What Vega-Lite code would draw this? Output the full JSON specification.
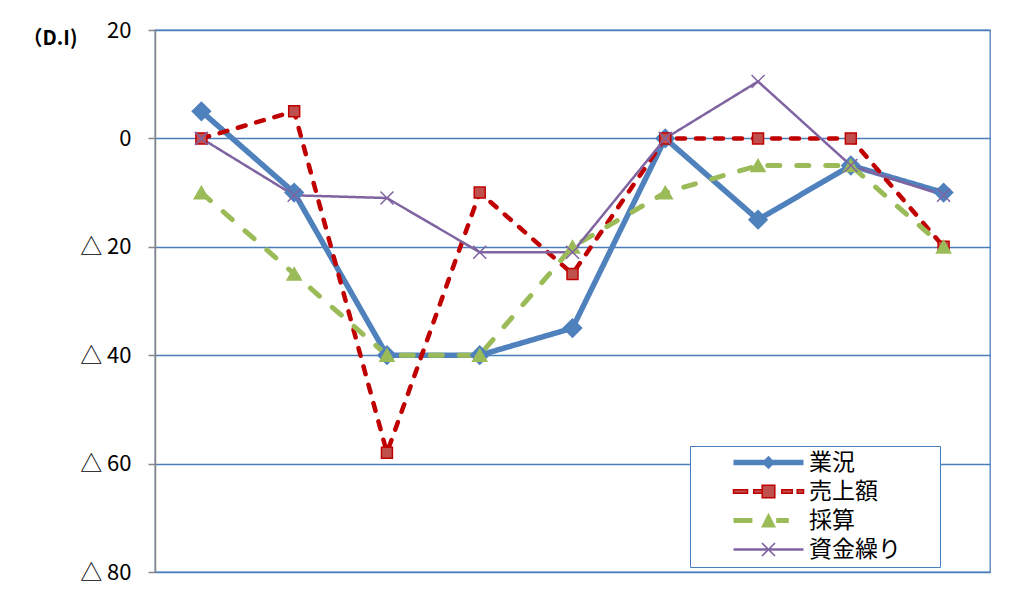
{
  "$schema": "https://vega.github.io/schema/vega-lite/v6.json",
  "width": 835,
  "height": 542,
  "autosize": "none",
  "padding": {"left": 155, "top": 30, "right": 29, "bottom": 21},
  "background": "white",
  "config": {
    "view": {"stroke": "#4a7ebb", "strokeWidth": 1.3},
    "font": "Noto Sans CJK JP"
  },
  "data": {
    "values": [
      {"period": 1, "series": "業況", "value": 5},
      {"period": 2, "series": "業況", "value": -10},
      {"period": 3, "series": "業況", "value": -40},
      {"period": 4, "series": "業況", "value": -40},
      {"period": 5, "series": "業況", "value": -35},
      {"period": 6, "series": "業況", "value": 0},
      {"period": 7, "series": "業況", "value": -15},
      {"period": 8, "series": "業況", "value": -5},
      {"period": 9, "series": "業況", "value": -10},
      {"period": 1, "series": "売上額", "value": 0},
      {"period": 2, "series": "売上額", "value": 5},
      {"period": 3, "series": "売上額", "value": -58},
      {"period": 4, "series": "売上額", "value": -10},
      {"period": 5, "series": "売上額", "value": -25},
      {"period": 6, "series": "売上額", "value": 0},
      {"period": 7, "series": "売上額", "value": 0},
      {"period": 8, "series": "売上額", "value": 0},
      {"period": 9, "series": "売上額", "value": -20},
      {"period": 1, "series": "採算", "value": -10},
      {"period": 2, "series": "採算", "value": -25},
      {"period": 3, "series": "採算", "value": -40},
      {"period": 4, "series": "採算", "value": -40},
      {"period": 5, "series": "採算", "value": -20},
      {"period": 6, "series": "採算", "value": -10},
      {"period": 7, "series": "採算", "value": -5},
      {"period": 8, "series": "採算", "value": -5},
      {"period": 9, "series": "採算", "value": -20},
      {"period": 1, "series": "資金繰り", "value": 0},
      {"period": 2, "series": "資金繰り", "value": -10.5},
      {"period": 3, "series": "資金繰り", "value": -11},
      {"period": 4, "series": "資金繰り", "value": -21},
      {"period": 5, "series": "資金繰り", "value": -21},
      {"period": 6, "series": "資金繰り", "value": 0},
      {"period": 7, "series": "資金繰り", "value": 10.5},
      {"period": 8, "series": "資金繰り", "value": -5},
      {"period": 9, "series": "資金繰り", "value": -10.5}
    ]
  },
  "encoding": {
    "x": {"field": "period", "type": "ordinal", "axis": null, "scale": {"type": "point", "padding": 0.5}},
    "y": {
      "field": "value",
      "type": "quantitative",
      "scale": {"domain": [-80, 20], "nice": false},
      "axis": {
        "values": [-80, -60, -40, -20, 0, 20],
        "labelExpr": "datum.value < 0 ? '△ ' + (-datum.value) : '' + datum.value",
        "labelFontSize": 22,
        "labelColor": "black",
        "labelPadding": 17,
        "tickSize": 7,
        "tickColor": "#868686",
        "tickWidth": 1.5,
        "domainColor": "#868686",
        "domainWidth": 1.5,
        "gridColor": "#4a7ebb",
        "gridWidth": 1.3,
        "title": "（D.I)",
        "titleAngle": 0,
        "titleX": -133,
        "titleY": 8,
        "titleAlign": "left",
        "titleBaseline": "middle",
        "titleFontSize": 20,
        "titleFontWeight": "bold",
        "titleColor": "black"
      }
    }
  },
  "layer": [
    {
      "mark": {"type": "line", "strokeCap": "round", "strokeJoin": "round"},
      "encoding": {
        "color": {
          "field": "series",
          "type": "nominal",
          "sort": ["業況", "売上額", "採算", "資金繰り"],
          "scale": {"range": ["#4f81bd", "#c00000", "#9bbb59", "#8064a2"]},
          "legend": {
            "orient": "none",
            "legendX": 535,
            "legendY": 416,
            "title": ".",
            "titleOrient": "right",
            "titleColor": "rgba(0,0,0,0)",
            "titlePadding": 30,
            "titleFontSize": 10,
            "symbolType": "M-5,0L5,0",
            "symbolSize": 196,
            "symbolOffset": 62,
            "labelOffset": 29,
            "labelFontSize": 23,
            "labelColor": "black",
            "padding": 5,
            "rowPadding": 5,
            "strokeColor": "#4a7ebb",
            "fillColor": "white",
            "encode": {
              "symbols": {
                "update": {
                  "shape": {"signal": "datum.value === '業況' ? 'M-5,-0.39L5,-0.39L5,0.39L-5,0.39Z M0,-0.95L0.95,0L0,0.95L-0.95,0Z' : datum.value === '売上額' ? 'M-5,-0.25L-3,-0.25L-3,0.25L-5,0.25Z M-2.1,-0.25L-0.9,-0.25L-0.9,0.25L-2.1,0.25Z M1.9,-0.25L3.4,-0.25L3.4,0.25L1.9,0.25Z M4.1,-0.25L5,-0.25L5,0.25L4.1,0.25Z M-0.9,-0.9L0.9,-0.9L0.9,0.9L-0.9,0.9Z' : datum.value === '採算' ? 'M-5,-0.36L-2.3,-0.36L-2.3,0.36L-5,0.36Z M1.1,-0.36L2.9,-0.36L2.9,0.36L1.1,0.36Z M-1.07,1L0,-1.1L1.07,1Z' : 'M-5,-0.18L5,-0.18L5,0.18L-5,0.18Z M-0.845,-1.015L1.015,0.845L0.845,1.015L-1.015,-0.845Z M-1.015,0.845L0.845,-1.015L1.015,-0.845L-0.845,1.015Z'"},
                  "fill": {"signal": "datum.value === '業況' ? '#4f81bd' : datum.value === '売上額' ? '#c0504d' : datum.value === '採算' ? '#9bbb59' : '#8064a2'"},
                  "stroke": {"signal": "datum.value === '売上額' ? '#c00000' : 'transparent'"},
                  "strokeWidth": {"signal": "datum.value === '売上額' ? 1.5 : 0"},
                  "opacity": {"value": 1}
                }
              }
            }
          }
        },
        "strokeDash": {
          "field": "series",
          "type": "nominal",
          "sort": ["業況", "売上額", "採算", "資金繰り"],
          "scale": {"range": [[1, 0], [8, 11], [12, 17], [1, 0]]},
          "legend": null
        },
        "strokeWidth": {
          "field": "series",
          "type": "nominal",
          "sort": ["業況", "売上額", "採算", "資金繰り"],
          "scale": {"type": "ordinal", "range": [5.5, 4.5, 5, 2.5]},
          "legend": null
        }
      }
    },
    {
      "mark": {"type": "point", "strokeWidth": 1.5, "opacity": 1},
      "encoding": {
        "shape": {
          "field": "series",
          "type": "nominal",
          "scale": {"domain": ["業況", "売上額", "採算", "資金繰り"], "range": ["diamond", "square", "triangle-up", "M-1,-1L1,1M-1,1L1,-1"]},
          "legend": null
        },
        "fill": {
          "field": "series",
          "type": "nominal",
          "scale": {"domain": ["業況", "売上額", "採算", "資金繰り"], "range": ["#4f81bd", "#c0504d", "#9bbb59", "transparent"]},
          "legend": null
        },
        "stroke": {
          "field": "series",
          "type": "nominal",
          "scale": {"domain": ["業況", "売上額", "採算", "資金繰り"], "range": ["#4f81bd", "#c00000", "#9bbb59", "#8064a2"]},
          "legend": null
        },
        "size": {
          "field": "series",
          "type": "nominal",
          "scale": {"type": "ordinal", "domain": ["業況", "売上額", "採算", "資金繰り"], "range": [330, 120, 200, 170]},
          "legend": null
        }
      }
    }
  ]
}
